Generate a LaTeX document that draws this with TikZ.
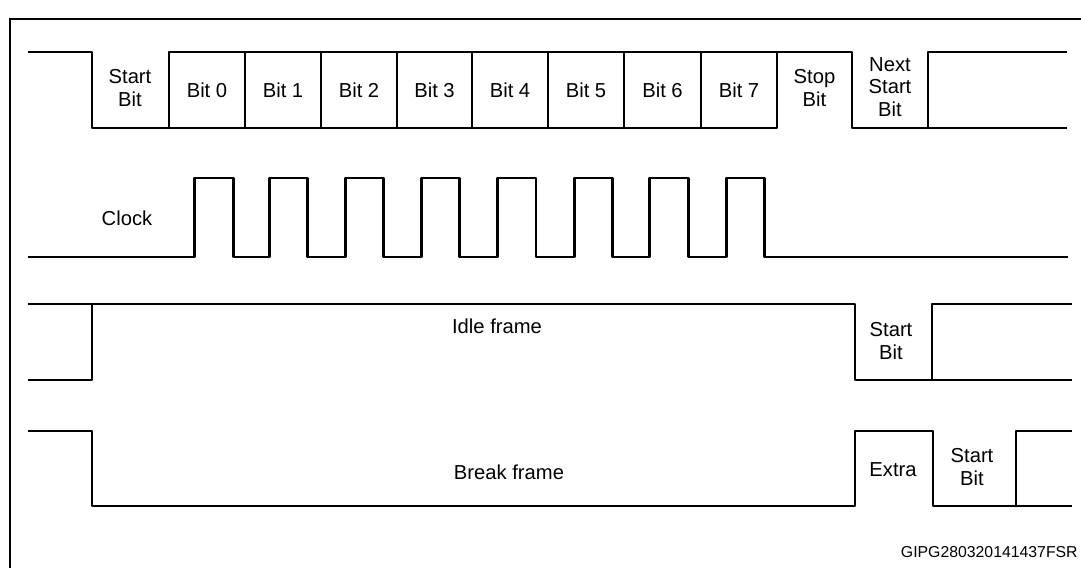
\documentclass[tikz,border=0pt]{standalone}
\usepackage{fontspec}
\setmainfont{Liberation Sans}
\usetikzlibrary{positioning}

\begin{document}
\begin{tikzpicture}[x=0.02cm, y=-0.02cm,
    sig/.style={line width=1.6pt, line join=round},
    lbl/.style={font=\fontsize{11.5}{13}\selectfont, align=center, inner sep=0pt}]
  \useasboundingbox (0,0) rectangle (1081,568);
  % outer frame
  \draw[line width=1.3pt] (10,568) -- (10,19) -- (1081,19);

  % data line
  \draw[sig] (28,52) -- (92,52) -- (92,128) -- (777,128) -- (777,52);
  \draw[sig] (169,128) -- (169,52) -- (852,52) -- (852,128) -- (1067,128);
  \foreach \x in {245,321,397,472,548,624,701}
    \draw[sig] (\x,52) -- (\x,128);
  \draw[sig] (928,128) -- (928,52) -- (1067,52);
  \node[lbl] (start) at (130,88) {Start\\Bit};
  \foreach \i/\x in {0/207,1/283,2/359,3/434.5,4/510,5/586,6/662.5,7/739}
    \node[lbl] (bit\i) at (\x,90) {Bit \i};
  \node[lbl] (stop) at (814.5,88) {Stop\\Bit};
  \node[lbl] (nextstart) at (890,87) {Next\\Start\\Bit};

  % clock
  \draw[sig] (28,257)
    \foreach \r/\f in {194.6/233.5,269.6/307.5,345.4/383.3,421.8/459.7,
                       497.6/536,574.5/612.5,649.7/688.4,726.3/764.3}
      { -- (\r,257) -- (\r,178) -- (\f,178) -- (\f,257) }
    -- (1068,257);
  \node[lbl] (clock) at (127,218) {Clock};

  % idle frame
  \draw[sig] (28,304) -- (855,304) -- (855,380) -- (1072,380);
  \draw[sig] (28,380) -- (92,380) -- (92,304);
  \draw[sig] (932,380) -- (932,304) -- (1072,304);
  \node[lbl] (idle) at (497,326) {Idle frame};
  \node[lbl] (idlestart) at (891,341) {Start\\Bit};

  % break frame
  \draw[sig] (28,431) -- (92,431) -- (92,506) -- (855,506) -- (855,431)
    -- (933,431) -- (933,506) -- (1072,506);
  \draw[sig] (1016,506) -- (1016,431) -- (1072,431);
  \node[lbl] (break) at (509,472) {Break frame};
  \node[lbl] (extra) at (893,470) {Extra};
  \node[lbl] (breakstart) at (972,467) {Start\\Bit};

  \node[font=\fontsize{9}{11}\selectfont, anchor=east, inner sep=0pt] (ref) at (1078,552) {GIPG280320141437FSR};
\end{tikzpicture}
\end{document}
